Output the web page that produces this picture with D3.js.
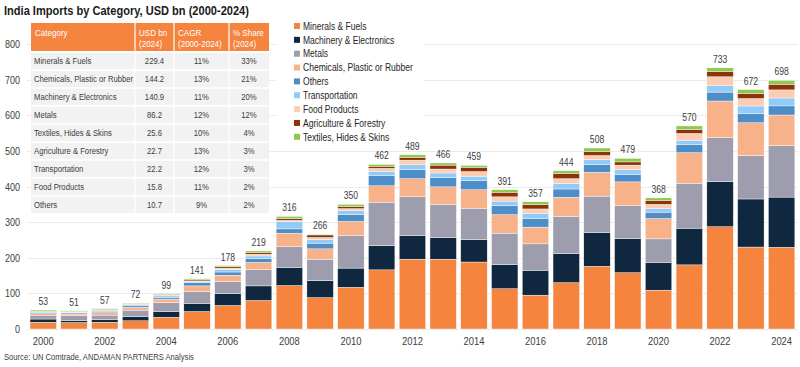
<!DOCTYPE html>
<html><head><meta charset="utf-8">
<script src="https://cdn.jsdelivr.net/npm/d3@7/dist/d3.min.js"></script>
<style>
html,body{margin:0;padding:0;background:#fff;}
svg{display:block;font-family:"Liberation Sans",Arial,sans-serif;}
</style></head><body>
<svg id="c" width="800" height="367"></svg>
<script>
// ---- data ----
const years = [2000,2001,2002,2003,2004,2005,2006,2007,2008,2009,2010,2011,2012,2013,2014,2015,2016,2017,2018,2019,2020,2021,2022,2023,2024];
const seriesNames = ["Minerals & Fuels","Machinery & Electronics","Metals","Chemicals, Plastic or Rubber","Others","Transportation","Food Products","Agriculture & Forestry","Textiles, Hides & Skins"];
const seriesColors = ["#F5843F","#10283F","#9D9DAE","#F8B28A","#4D8DC8","#93CBF8","#FBCDB3","#8C330A","#8DC94F"];
const mineralsFuels   = [19,18,19,23,33,49,66,80,122,88,117,166,196,196,188,113,95,130,176,158,109,180,287,230,229.4];
const machineryElec   = [9,6,8,12,16,23,33,41,51,48,54,68,66,60,63,68,70,82,95,96,78,103,127,135,140.9];
const metals          = [9,13,12,18,25,33,34,46,58,60,91,122,109,94,88,88,74,104,102,92,66,126,123,122,144.2];
const chemicals       = [6,5,7,8,10,16,18,20,38,29,40,46,51,49,52,52,47,54,67,67,57,86,103,92,86.2];
const others          = [3,3,4,4,5,9,9,11,12,16,19,28,25,26,25,25,25,23,21,21,18,22,25,25,25.6];
const transportation  = [2,2,2,3,4,3,7,7,20,11,11,13,14,13,13,13,14,16,14,13,10,13,18,22,22.2];
const foodProducts    = [1,1,1,2,2,2,4,5,4,5,6,8,13,11,13,12,12,13,12,13,12,19,25,21,22.7];
const agriculture     = [1,1,2,1,2,3,4,4,5,7,5,6,8,11,12,13,12,15,11,9,11,11,14,14,15.8];
const textiles        = [3,2,2,1,2,3,3,5,6,2,7,5,7,6,5,7,8,7,10,10,7,10,11,11,10.7];
const totalLabels     = [53,51,57,72,99,141,178,219,316,266,350,462,489,466,459,391,357,444,508,479,368,570,733,672,698];
const yTicks = [0,100,200,300,400,500,600,700,800];
const xTickYears = [2000,2002,2004,2006,2008,2010,2012,2014,2016,2018,2020,2022,2024];

const tableHeader1 = ["Category","USD bn","CAGR","% Share"];
const tableHeader2 = ["","(2024)","(2000-2024)","(2024)"];
const tableCats  = ["Minerals & Fuels","Chemicals, Plastic or Rubber","Machinery & Electronics","Metals","Textiles, Hides & Skins","Agriculture & Forestry","Transportation","Food Products","Others"];
const tableUsd   = ["229.4","144.2","140.9","86.2","25.6","22.7","22.2","15.8","10.7"];
const tableCagr  = ["11%","13%","11%","12%","10%","13%","12%","11%","9%"];
const tableShare = ["33%","21%","20%","12%","4%","3%","3%","2%","2%"];

const titleText = "India Imports by Category, USD bn (2000-2024)";
const sourceText = "Source: UN Comtrade, ANDAMAN PARTNERS Analysis";

// ---- build ----
const NARROW = 0.82;
function narrow(sel){
  sel.each(function(){
    const t = d3.select(this);
    const tx = +t.attr("x")||0, ty = +t.attr("y")||0;
    t.attr("x",0).attr("y",0).attr("transform",`translate(${tx},${ty}) scale(${NARROW},1)`);
  });
  return sel;
}

const seriesValues = [mineralsFuels,machineryElec,metals,chemicals,others,transportation,foodProducts,agriculture,textiles];
const rows = years.map((y,i)=>{ const o={year:y}; seriesNames.forEach((n,k)=>o[n]=seriesValues[k][i]); return o; });
const stack = d3.stack().keys(seriesNames)(rows);

const svg = d3.select("#c");
const textCol = "#404040";

const x = d3.scaleBand().domain(years).range([27.85,797]).paddingInner(0.14).paddingOuter(0.07);
const y = d3.scaleLinear().domain([0,800]).range([329,44]);

// gridlines
svg.append("g").selectAll("line").data(yTicks).join("line")
  .attr("x1",27).attr("x2",798)
  .attr("y1",d=>Math.round(y(d))+0.5).attr("y2",d=>Math.round(y(d))+0.5)
  .attr("stroke","#EBEBEB").attr("stroke-width",1);

// legend background (covers gridlines)
svg.append("rect").attr("x",276).attr("y",15).attr("width",148).attr("height",127).attr("fill","#fff");

// y labels
const yAxis = d3.axisLeft(y).tickValues(yTicks).tickSize(0).tickPadding(0);
const gy = svg.append("g").attr("transform","translate(20,0)").call(yAxis);
gy.select(".domain").remove();
gy.selectAll("text").attr("font-size",11).attr("fill",textCol).attr("font-family",null);
narrow(gy.selectAll("text"));

// bars
svg.append("g").selectAll("g").data(stack).join("g")
  .attr("fill",(d,i)=>seriesColors[i])
  .selectAll("rect").data(d=>d).join("rect")
  .attr("x",d=>x(d.data.year))
  .attr("width",x.bandwidth())
  .attr("y",d=>y(d[1]))
  .attr("height",d=>Math.max(0,y(d[0])-y(d[1])))
  .attr("stroke","#ffffff").attr("stroke-width",0.4);

// total labels
const last = stack[stack.length-1];
narrow(svg.append("g").selectAll("text").data(years).join("text")
  .attr("x",d=>x(d)+x.bandwidth()/2)
  .attr("y",(d,i)=>y(last[i][1])-5)
  .attr("text-anchor","middle").attr("font-size",10.5).attr("fill",textCol)
  .text((d,i)=>totalLabels[i]));

// x labels
const xAxis = d3.axisBottom(x).tickValues(xTickYears).tickSize(0).tickPadding(0);
const gx = svg.append("g").attr("transform","translate(0,337)").call(xAxis);
gx.select(".domain").remove();
gx.selectAll("text").attr("font-size",11.5).attr("fill",textCol).attr("font-family",null).attr("dy","0.71em");
narrow(gx.selectAll("text"));

// title & source
narrow(svg.append("text").attr("x",4).attr("y",15).attr("font-size",13.5).attr("font-weight","bold").attr("fill","#1a1a1a").text(titleText));
narrow(svg.append("text").attr("x",4).attr("y",360).attr("font-size",9.3).attr("fill",textCol).text(sourceText));

// table
const colX = [31,135,174,229,269];
const hdrTop = 23, hdrH = 28, rowTop = 52, rowH = 18;
const tg = svg.append("g");
tg.append("rect").attr("x",colX[0]).attr("y",hdrTop).attr("width",colX[4]-colX[0]).attr("height",hdrH).attr("fill","#F5843F");
tg.append("rect").attr("x",colX[0]).attr("y",rowTop).attr("width",colX[4]-colX[0]).attr("height",rowH*tableCats.length).attr("fill","#F2F2F2");
tg.selectAll("line.v").data(colX.slice(1,4)).join("line")
  .attr("x1",d=>d).attr("x2",d=>d).attr("y1",hdrTop).attr("y2",rowTop+rowH*tableCats.length)
  .attr("stroke","#fff").attr("stroke-width",1.2);
tg.selectAll("line.h").data(d3.range(tableCats.length+1)).join("line")
  .attr("x1",colX[0]).attr("x2",colX[4]).attr("y1",d=>rowTop+d*rowH).attr("y2",d=>rowTop+d*rowH)
  .attr("stroke","#fff").attr("stroke-width",1.5);
tableHeader1.forEach((t,i)=>{
  narrow(tg.append("text").attr("x",colX[i]+4).attr("y",36).attr("font-size",9.8).attr("fill","#fff").text(t));
  if(tableHeader2[i]) narrow(tg.append("text").attr("x",colX[i]+4).attr("y",47).attr("font-size",9.8).attr("fill","#fff").text(tableHeader2[i]));
});
const colsData = [tableCats,tableUsd,tableCagr,tableShare];
colsData.forEach((col,ci)=>{
  narrow(tg.append("g").selectAll("text").data(col).join("text")
    .attr("x", ci===0 ? colX[0]+3 : (colX[ci]+colX[ci+1])/2)
    .attr("y",(d,i)=>rowTop+i*rowH+rowH/2+3.3)
    .attr("text-anchor", ci===0 ? "start" : "middle")
    .attr("font-size",9.4).attr("fill",textCol).text(d=>d));
});

// legend
const lg = svg.append("g");
const legY0 = 26, legStep = 13.85;
lg.selectAll("rect").data(seriesNames).join("rect")
  .attr("x",294).attr("y",(d,i)=>legY0+i*legStep-3).attr("width",6).attr("height",6)
  .attr("fill",(d,i)=>seriesColors[i]);
narrow(lg.selectAll("text").data(seriesNames).join("text")
  .attr("x",303).attr("y",(d,i)=>legY0+i*legStep+3.7)
  .attr("font-size",10.4).attr("fill","#262626").text(d=>d));
</script>
</body></html>
